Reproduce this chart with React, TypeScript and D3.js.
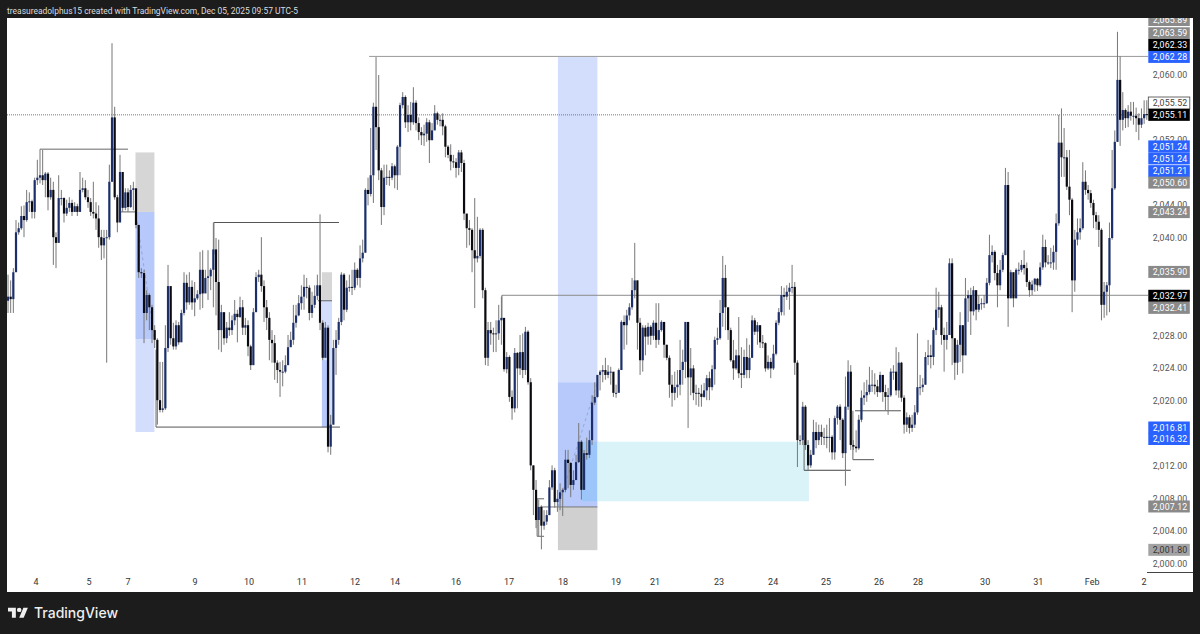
import React from "react";
import * as d3 from "d3";

// All prices are stored as offsets from BASE_PRICE.
const BASE_PRICE = 2000;
const FIRST_OPEN = 32.3;

const closes = [
32.8,32.5,35.8,40.7,41.2,42.7,42.2,44.4,44.5,43.2,47.1,47.4,47.7,47.1,47.9,45,45.9,40.1,39.4,44.9,
44.9,43,43.7,44.3,43.2,43.9,43.2,45.9,46.1,45,44.4,43.2,43,42.4,40.1,39.1,40,40.1,46.9,54.8,
45,41.9,48.1,43.7,45.6,43.8,45.9,46.1,41.6,35.8,35.7,30.8,33,31.5,28.7,27.5,20.1,18.9,19.1,26.5,
34.1,27.7,26.7,29.3,27.2,30.8,34.5,32.1,34,32.1,32.6,33.1,36.1,33.2,35.1,35.3,36.1,38.6,34.6,28.7,
30.9,27.7,29,28.7,29.9,30.7,30.3,31.5,29,29.3,26.7,24.4,30.9,35.2,35.5,34.1,31.5,30.2,27.5,27.1,
24.7,23.8,23.6,23.6,24.4,26.6,27.5,29.6,30.5,32,32.8,34,33.9,30.8,31.8,32.9,34.2,29.6,25.3,29,
14.4,17.1,26.5,27.5,29.7,35.5,31.2,33.9,34,33.9,36.1,35.1,37.5,38.2,45.9,45.4,47.7,56.1,53.6,48.3,
43.8,47.4,47.5,47.4,48.8,47.7,51.2,56.3,57.3,54.2,55.1,54.2,56.6,54.1,53,52.6,52.8,54.2,52,53.2,
55.3,54.5,54.5,53.7,51.2,50.2,49.4,49.3,48.6,50.5,49.2,43,41.2,41,38.5,37.5,37.8,41,33.6,25.3,
28.7,28.3,28.2,28.3,29.9,30.2,23.9,25.4,20.5,19.1,25.9,24,26,23.8,28.5,22.3,12.1,9.1,5.4,7,
4.7,5.2,6,9.4,11.5,7.6,8,8.8,9.1,12.8,12.4,9.7,10.3,12.5,15,9.1,13.6,13.4,15.2,19.8,
20.5,23.2,23.6,23.8,23.2,23.6,23.6,21,21,23.8,29.7,29.3,30.5,31.5,33.6,34.8,29.6,25,29,27.9,
29.1,28,29.6,27.5,28.7,29.7,26.9,25.3,22,21,21.7,22,23.8,24.8,29.7,22.9,24,21,21,20.9,
20.5,21.3,22.8,21.7,23.9,27.5,27.7,30.8,35.1,31.5,28.7,25,24,25.6,23.4,23.2,25.4,23.8,25.3,29.9,
28.5,29.3,27.2,27.1,24,24.8,24,25.8,29.6,30.9,33,32.8,33.4,33.9,34,24.7,15.2,15.2,19.3,14.6,
12.1,13.4,16.2,15.2,16.2,15.6,15.6,15.5,15.6,13.7,17.9,19.3,17.7,13.6,19.3,23.6,14.6,14.4,14.2,17.7,
20.4,20.7,21.1,22,22,21.8,21.1,23.2,21.1,20.5,20.7,23.6,23.6,21.3,24.7,20.4,17.1,18,16.7,17.1,
18.6,21.7,21.7,22,25.4,25.6,25.4,28.7,31.2,31.5,28.1,27.5,28.1,36.9,27.7,24.7,26.9,29.3,25.6,32.6,
33,31,33.6,31.2,31.9,32,32,34.5,37.9,38.3,35.7,34.2,36.1,37.9,46.5,32.6,35.8,32.6,36.1,36.1,
36.7,36.3,34.6,33.6,34.3,35,34.2,36.4,38.9,37,37,37,38.3,41.8,51.7,49.9,49.9,46.3,44.7,34.8,
39.8,40.7,41.2,46.9,45.9,45.5,44.3,42.8,42,41,31.8,33.4,34.2,40,46.1,51.8,59.4,54.5,55.7,54.7,
55.5,55,55,54.7,53.9,54.7,55.2,55.1];

const highs = [
35.5,34.8,36.3,42.2,41.9,43.9,44,45.9,45.6,44.7,47.4,49.6,50.9,50.8,48.1,48.1,47.4,46.9,40.7,47.7,
45.9,45,44.7,45,44.7,44.4,44.2,48.1,47.4,47.1,45.9,44.9,46.9,44.4,44,41,41,41,49,63.9,
56.1,45.3,50.2,48.1,46.1,46.1,46.5,46.9,44,41.6,36.3,36.1,33.6,33.2,31.8,29.3,27.7,24.8,24.8,29.3,
36.7,33,29.6,29.9,29.7,31.2,35.8,35.5,35.8,34.8,34.6,33.6,38.3,38.5,36.1,38.5,36.3,41.9,40,39.8,
31.8,29.9,29.7,30.9,30.5,32.4,31.2,32.8,32.4,30.2,29.9,26.9,31.4,35.8,36.1,40.1,34.8,32.4,30.9,28.7,
28.1,25,24.8,25,25.6,28.1,28.5,31.8,31.8,33,34.2,35.5,35.1,34.2,33.4,34.2,35.5,42.9,29.9,29.7,
29.3,18.3,27.5,28.7,30.2,35.8,35.7,34.8,35.5,36.1,37,36.3,39.1,39.8,46.1,47.4,53.5,56.6,62.2,60,
48.6,49,49,48.3,49.2,49,51.4,56.6,57.9,57.5,56.3,56.7,58.5,56.9,54.8,53.6,53.9,54.7,54.5,54.1,
56.3,55.5,55.1,55.3,53.9,51.4,51.5,50.2,49.8,50.8,50.8,49.6,42.8,42.2,41.2,44.9,42.6,41.2,41.2,33.9,
29.7,29.7,29,29.9,31.8,32.8,29.9,26,25.6,21.3,26.5,26,28.1,28.3,29.1,28.7,22.8,12.1,10.3,7.9,
7.2,6.6,6.6,10.3,12.1,11.8,9.1,9.9,9.3,14,14,12.5,11.5,13.4,17.3,15.2,14,15.5,16.4,20.7,
22.3,23.2,23.8,24.4,25.3,24.4,24.2,23.2,22,24,29.9,30.5,31.2,32,35.1,39.4,34.8,30.2,29.3,29.3,
29.6,29.3,29.9,32,32,29.9,29.7,26.9,25.6,23.2,23.6,23.8,27.5,26.3,29.7,29.7,26.5,24.4,22,21.6,
22,22.2,23.2,23.6,24.4,27.9,29,32.4,37.8,36.7,30.5,29,27.5,26.3,30.3,26.6,26.3,27.7,26.9,30.5,
30.2,29.7,29.3,28.1,27.2,25.6,25.3,26.9,29.9,31.4,34.1,33.9,34.2,34.5,36.7,34.6,25,15.8,19.9,19.5,
15.2,14,17.7,17.4,17.1,17.1,16.7,17.1,17.9,15.8,18.2,19.5,19.6,17.9,23,25,24.4,15.2,16.4,18.3,
21.3,22.3,22.6,24.2,23.8,23.4,22.6,23.6,23.2,22,21.6,24,24.4,26.6,26,24.8,20.7,18.6,18.3,18.3,
19.5,28.3,23.2,22.8,26,27.5,26.9,29,33.9,33.4,31.8,29,29.7,37.5,37.5,27.7,27.5,30.9,29.3,35.1,
33.6,33.9,34.1,33.6,33,32.6,33,35.1,40.4,39.1,38.5,36.7,37.3,38.2,48.6,48.1,36.1,35.8,36.3,37,
37.3,38.5,37,34.8,34.8,35.1,35.1,37,40.4,39.8,37.9,38.8,39.1,43,55.1,55.9,53.5,50.8,50.8,44.9,
41,42.4,42.4,49.3,48.3,46.5,45.9,44.7,43.2,42.8,41.2,34.6,34.6,41.9,50.8,53.2,65.3,62.3,57.9,55.9,
56.3,56.7,56.7,56,55.3,55.9,56.9,56.9];

const lows = [
30.8,30.8,30.8,36.1,40.4,41,40.1,42,43.2,42.4,42.4,46.5,46.7,46.5,45,43.4,44.7,36.7,36.3,44,
44,41.9,42.7,43.2,42.7,43.2,42.7,44,45.6,44.7,43.7,42.7,42.4,41,38.8,37.3,37.5,24.7,39.8,46.9,
44.7,40.7,44.7,43.2,43.4,43.2,43.7,43.4,41.2,35.1,35.1,27.1,29.9,28.7,27.1,26.5,17.1,18.6,18.6,18.9,
26,26.9,26.3,26.3,26.9,27.5,30.5,31.2,31.8,31.2,30.4,32.4,31.2,31.4,33.6,32.4,33.6,31.5,30.5,26.3,
26,26.9,27.1,28,28.1,29.3,27.2,30.2,28.1,28.1,25.5,23.8,24.4,30.9,34.6,33.4,29.7,28.7,25,24.7,
22.6,22.2,20.5,21.8,23.4,24.4,26.9,26.9,29,30.4,31.2,31.2,32.6,29.9,30.2,31.4,32.4,28.7,25,25.3,
13.7,13.4,17.1,23.2,26.9,29.3,29.9,30.9,33.4,33,33.6,34.2,33.9,37,38.2,44,45.1,44.3,50.8,47.1,
41.6,42.8,46.5,46.4,47.1,46.1,45.9,47.7,55.9,53.5,53,53.2,53.9,53.2,52,51.4,51.3,51.8,49.2,52,
53.9,53.9,53.7,52.6,49.9,49.8,48.3,48.6,47.4,47.7,48.1,42.2,38.8,39.1,35.8,31.4,37,37.5,32.6,24.4,
24.3,26.9,26,26,27.5,26.9,23.6,23.4,19.9,17.7,18.6,19.1,23.2,22.8,23.2,22,11.5,6,4.4,3.4,
1.8,4.2,4.8,6,9.1,6.9,6.4,6.6,5.9,8.8,9.3,8.2,9.1,10.3,12.4,7.9,9.1,12.8,13,14.6,
19.5,20.4,21.3,22.3,22.6,22.8,22,20.5,20.4,21.1,23.8,26.3,26.9,29.9,31.2,32.6,26.3,23.2,23.6,25.6,
26.9,26.9,27.5,26.5,26.9,28.5,25.3,25,20.4,19.3,20.1,20.4,20.7,22,22.8,16.7,20.7,20.1,19.5,19.3,
19.3,20.4,20.1,20.1,21.3,22,26.9,27.5,29.1,28.7,27.5,24.8,22.6,23.8,22.8,21.6,22.8,22.8,22.8,25.3,
28.1,26.9,26.5,26.5,23.6,23.8,22.8,23.8,25.6,29.3,30.5,30.5,32.4,31.2,33.2,23.2,11.9,14.6,14.6,14,
11.5,11.8,13.4,14.2,14.6,14.6,14.6,14.2,13.7,12.8,12.8,17.1,15.2,13,9.6,18.9,14,14,13.7,14,
17.4,19.5,19.9,20.8,21.1,20.8,20.5,21,19.9,18.9,18.3,20.5,22.6,20.7,20.4,19.9,16,16.2,16,16.2,
16.7,18.3,20.7,21.1,22,24.4,24,24.4,28.1,30.2,26.9,23.6,26.3,28.1,24.4,22.6,23.2,24.8,23.4,26.9,
29.7,28.1,30.5,29.9,30.9,31.2,31.4,31.9,34.2,37,34.8,31.5,33.6,35.8,37.9,29.1,32.6,31.5,32.6,35.5,
35.8,35.5,34,32.8,33,33.4,33.5,34,36.1,36.4,36.7,36.3,36.1,36.1,41.5,47.5,47.5,45.9,42.8,30.9,
33.4,39.1,39.8,41,45.3,44.7,43.7,41.2,41,38.9,29.9,30.2,30.5,30.9,39.8,45.9,51.8,51.3,53.2,53.5,
53.6,54.4,53.9,53,52,53.5,54,54.5];

// Time axis: [label, candle index]
const timeLabels = ["4","5","7","9","10","11","12","14","16","17","18","19","21","23","24","25","26","28","30","31","Feb","2"];
const timeIndex = [10.5,30.4,45,70.1,90.4,110.2,130.1,145.1,168,187.9,208.1,228,242.6,266.6,286.9,306.7,326.6,341.2,366.4,386.3,406.5,426];

const priceTicks = [60,52,44,40,28,24,20,12,8,4,0];

// Zones: index from/to, price from/to, fill
const zoneFrom = [47.8,47.8,47.8,117.7,117.7,117.7,206.2,206.2,206.2,215.2,221];
const zoneTo   = [54.9,54.9,54.9,121.5,121.5,120,  221,  221,  221,  221,  300.3];
const zoneHi   = [50.5,43.2,27.6,35.8,32.4,25,   62.2, 22.3, 7,    15,   15];
const zoneLo   = [43.2,27.6,16.2,32.4,16.8,16.8, 22.3, 7,    1.7,  7.7,  7.7];
const zoneFill = ["#d6d6d6","#b6c9fa","#d3defc","#d6d6d6","#d3defc","#b6c9fa","#d3defc","#b6c9fa","#d0d0d0","#9cc6fa","#d9f3f9"];

// Horizontal levels: index from/to, price
const levelFrom  = [12,  77.2,55.5,42,  116.2,298.5,316.8,317.6,198.4,198.4,199.5,135.4,185.2];
const levelTo    = [45,  124.1,124.5,47.6,121.5,316, 324.7,334.8,201,  201,  221,  427.5,427.5];
const levelPrice = [50.9,41.9,16.8,43.2,32.3, 11.5, 12.8, 18.8, 8,    3.4,  7,    62.28,32.97];
const levelColor = ["#666","#555","#555","#666","#666","#444","#555","#555","#666","#666","#777","#999","#8c8c8c"];

// Vertical connectors: index, price from/to
const vIndex = [77.2,55.5,298.5,316.8,198.4,185.2];
const vHi    = [41.9,26.3,15.2,18.8,8,32.97];
const vLo    = [38,16.8,11.5,12.8,3.4,30];

// Dashed diagonals: index/price start and end
const dashI0 = [48.5,206.2];
const dashP0 = [42,7];
const dashI1 = [54.9,221];
const dashP1 = [27.6,22.3];

// Price-axis tags
const tagText  = ["2,065.89","2,063.59","2,062.33","2,062.28","2,055.52","2,055.11","2,051.24","2,051.24","2,051.21","2,050.60","2,043.24","2,035.90","2,032.97","2,032.41","2,016.81","2,016.32","2,007.12","2,001.80"];
const tagPrice = [65.89,63.59,62.33,62.28,55.52,55.11,51.24,51.24,51.21,50.6,43.24,35.9,32.97,32.41,16.81,16.32,7.12,1.8];
const tagShift = [-7,-12.5,-11,0.5,-8.5,0,0,12,24.5,31,0.5,0.5,0.5,8,0.5,8,0.5,0.5];
const tagFill  = ["#8a8a8a","#8a8a8a","#000","#2962ff","#fff","#000","#2962ff","#2962ff","#2962ff","#8a8a8a","#8a8a8a","#8a8a8a","#000","#8a8a8a","#2962ff","#2962ff","#8a8a8a","#a3a3a3"];
const tagInk   = ["#fff","#fff","#fff","#fff","#444","#fff","#fff","#fff","#fff","#fff","#fff","#fff","#fff","#fff","#fff","#fff","#fff","#333"];

const W = 1200, H = 634;
const x = d3.scaleLinear().domain([0, 427]).range([8, 1146.8]);
const y = d3.scaleLinear().domain([0, 60]).range([564, 75]);
const FONT = "Roboto, 'Noto Sans', sans-serif";
const fmt = d3.format(",.2f");

export default function App() {
  React.useLayoutEffect(() => { document.body.style.margin = "0"; document.body.style.background = "#1c1c1c"; }, []);
  const candles = closes.map((c, i) => ({ i, o: i === 0 ? FIRST_OPEN : closes[i - 1], c, h: highs[i], l: lows[i] }));
  return (
    <svg width={W} height={H} viewBox={`0 0 ${W} ${H}`} style={{ display: "block" }} fontFamily={FONT}>
      <rect width={W} height={H} fill="#1c1c1c" />
      <rect x={7} y={18} width={1186} height={574} fill="#fff" />
      <text x={7} y={14} fontSize={9.4} fill="#dcdcdc" fontFamily="Roboto, sans-serif" textLength={291} lengthAdjust="spacingAndGlyphs">treasureadolphus15 created with TradingView.com, Dec 05, 2025 09:57 UTC-5</text>

      {zoneFrom.map((f, k) => (
        <rect key={k} x={x(f)} width={x(zoneTo[k]) - x(f)} y={y(zoneHi[k])} height={y(zoneLo[k]) - y(zoneHi[k])} fill={zoneFill[k]} />
      ))}

      <line x1={7} x2={1148} y1={y(55.11)} y2={y(55.11)} stroke="#777" strokeWidth={1} strokeDasharray="1 1" />
      {levelFrom.map((f, k) => (
        <line key={k} x1={x(f)} x2={x(levelTo[k])} y1={y(levelPrice[k])} y2={y(levelPrice[k])} stroke={levelColor[k]} strokeWidth={1} />
      ))}
      {vIndex.map((v, k) => (
        <line key={k} x1={x(v)} x2={x(v)} y1={y(vHi[k])} y2={y(vLo[k])} stroke="#666" strokeWidth={1} />
      ))}
      {dashI0.map((v, k) => (
        <line key={k} x1={x(v)} x2={x(dashI1[k])} y1={y(dashP0[k])} y2={y(dashP1[k])} stroke="#8d9dc8" strokeWidth={0.8} strokeDasharray="3 3" />
      ))}

      {candles.map((d) => (
        <line key={d.i} x1={x(d.i)} x2={x(d.i)} y1={y(d.h)} y2={y(d.l)} stroke="#777" strokeWidth={1} />
      ))}
      {candles.map((d) => {
        const top = y(Math.max(d.o, d.c));
        const h = Math.max(1, Math.abs(y(d.o) - y(d.c)));
        return <rect key={d.i} x={x(d.i) - 1.1} y={top} width={2.2} height={h} fill={d.c >= d.o ? "#1c2f6b" : "#0a0a10"} />;
      })}

      {/* price axis */}
      <line x1={1147} x2={1193} y1={572.5} y2={572.5} stroke="#444" strokeWidth={1} />
      {priceTicks.map((t) => (
        <text key={t} x={1170} y={y(t)} dy="0.35em" textAnchor="middle" fontSize={8.8} fill="#555" letterSpacing={0.1}>{fmt(BASE_PRICE + t)}</text>
      ))}
      <clipPath id="c"><rect x={7} y={18} width={1186} height={574} /></clipPath>
      <g clipPath="url(#c)">
        {tagText.map((t, k) => {
          const cy = y(tagPrice[k]) + tagShift[k];
          return (
            <g key={k}>
              <rect x={1148.3} y={cy - 6} width={41.5} height={12} fill={tagFill[k]} stroke={tagFill[k] === "#fff" ? "#444" : "none"} strokeWidth={0.8} />
              <text x={1170} y={cy} dy="0.36em" textAnchor="middle" fontSize={8.8} fill={tagInk[k]} letterSpacing={0.1}>{t}</text>
            </g>
          );
        })}
      </g>

      {/* time axis */}
      {timeLabels.map((t, k) => (
        <text key={k} x={x(timeIndex[k])} y={582} dy="0.35em" textAnchor="middle" fontSize={9} fill="#333">{t}</text>
      ))}

      {/* logo */}
      <g transform="translate(8,605.4) scale(0.56)" fill="#efefef">
        <path d="M14 22H7V11H0V4h14v18zM28 22h-8l7.5-18h8L28 22z" />
        <circle cx={20} cy={8} r={4} />
      </g>
      <text x={34} y={618} fontSize={14.6} fontWeight={500} fill="#efefef" fontFamily="Inter, Roboto, sans-serif" textLength={84} lengthAdjust="spacingAndGlyphs">TradingView</text>
    </svg>
  );
}
